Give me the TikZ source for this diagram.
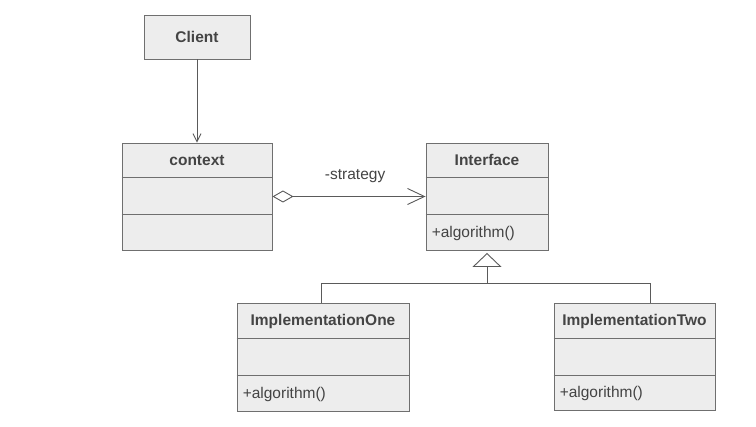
\documentclass[tikz,border=0pt]{standalone}
\usepackage{fontspec}
\setmainfont{Liberation Sans}
\usetikzlibrary{arrows.meta}
\definecolor{boxfill}{HTML}{EDEDED}
\definecolor{boxline}{HTML}{6F6F6F}
\definecolor{wireline}{HTML}{5A5A5A}
\definecolor{textgray}{HTML}{444444}
\tikzset{
  umlclass/.style = {draw=boxline, fill=boxfill, line width=0.9pt, inner sep=0pt},
  classname/.style = {font=\fontsize{15.5}{18}\selectfont\bfseries, text=textgray, inner sep=0pt, text height=11pt, text depth=0pt},
  member/.style = {font=\fontsize{15.5}{18}\selectfont, text=textgray, inner sep=0pt, text height=11pt, text depth=0pt, anchor=west},
  divider/.style = {draw=boxline, line width=0.9pt},
  wire/.style = {draw=wireline, line width=0.9pt}
}
\begin{document}
\begin{tikzpicture}[x=1pt, y=-1pt]
  \useasboundingbox (0,0) rectangle (756,427);
  % classes
  \node[umlclass, minimum width=106pt, minimum height=44pt] (client) at (197,37) {};
  \node[classname] (clientname) at (client.center) {Client};
  \node[umlclass, minimum width=150pt, minimum height=107pt] (context) at (197,196.5) {};
  \node[classname] (contextname) at (197,160) {context};
  \draw[divider] (context.west |- 0,177) -- (context.east |- 0,177);
  \draw[divider] (context.west |- 0,214) -- (context.east |- 0,214);
  \node[umlclass, minimum width=122pt, minimum height=107pt] (iface) at (487,196.5) {};
  \node[classname] (ifacename) at (487,160) {Interface};
  \draw[divider] (iface.west |- 0,177) -- (iface.east |- 0,177);
  \draw[divider] (iface.west |- 0,214) -- (iface.east |- 0,214);
  \node[member] (ifaceop) at ([xshift=6pt]iface.west |- 0,232.5) {+algorithm()};
  \node[umlclass, minimum width=172pt, minimum height=108pt] (implone) at (323,357) {};
  \node[classname] (imploneName) at (323,320.5) {ImplementationOne};
  \draw[divider] (implone.west |- 0,338) -- (implone.east |- 0,338);
  \draw[divider] (implone.west |- 0,375) -- (implone.east |- 0,375);
  \node[member] (imploneop) at ([xshift=6pt]implone.west |- 0,393) {+algorithm()};
  \node[umlclass, minimum width=161pt, minimum height=107pt] (impltwo) at (634.5,356.5) {};
  \node[classname] (impltwoName) at (634.5,320.5) {ImplementationTwo};
  \draw[divider] (impltwo.west |- 0,338) -- (impltwo.east |- 0,338);
  \draw[divider] (impltwo.west |- 0,375) -- (impltwo.east |- 0,375);
  \node[member] (impltwoop) at ([xshift=6pt]impltwo.west |- 0,392.5) {+algorithm()};
  % connectors
  \draw[wire, -{Straight Barb[length=8pt, width=8pt]}] (client) -- (context);
  \draw[wire, {Diamond[open, length=21pt, width=12pt]}-{Straight Barb[length=17pt, width=16pt]}]
    (context.east) -- (iface.west) node[pos=0.54, above=13pt, font=\fontsize{15.5}{18}\selectfont, text=textgray, inner sep=0pt] (strategy) {-strategy};
  \coordinate (busleft) at (321,283);
  \coordinate (busright) at (650,283);
  \draw[wire] (implone.north -| busleft) -- (busleft) -- (busright) -- (impltwo.north -| busright);
  \draw[wire, shorten >=2.5pt, -{Triangle[open, length=14pt, width=29pt, fill=white]}] (busleft -| iface.south) -- (iface.south);
\end{tikzpicture}
\end{document}
